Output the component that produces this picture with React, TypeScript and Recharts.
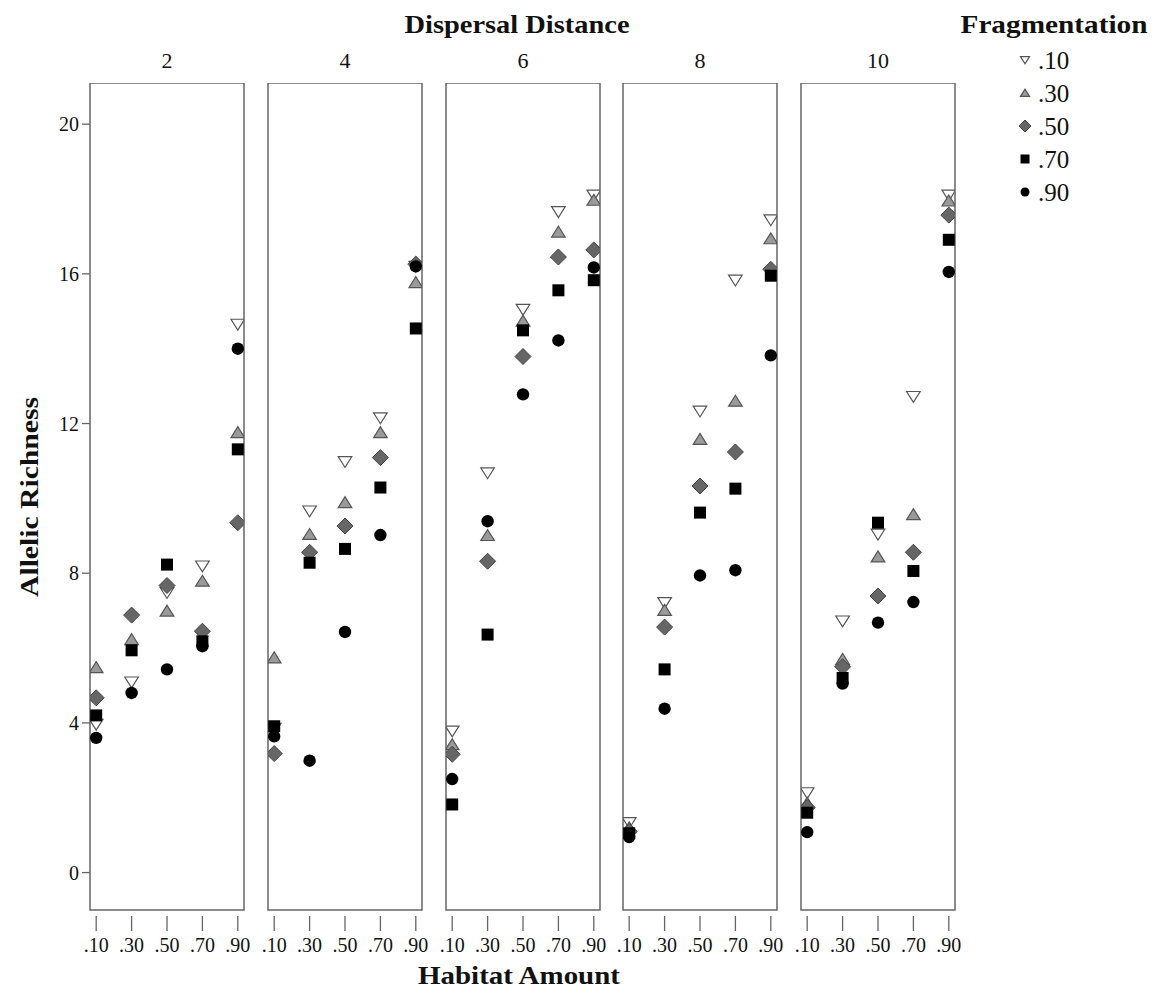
import React from 'react';
import { ScatterChart, Scatter, XAxis, YAxis, ReferenceArea } from 'recharts';

// ---------- data ----------
const habitatAmount = [0.1, 0.3, 0.5, 0.7, 0.9];
const habitatTickLabels = ['.10', '.30', '.50', '.70', '.90'];
const dispersalDistances = ['2', '4', '6', '8', '10'];
const fragmentationLabels = ['.10', '.30', '.50', '.70', '.90'];
const yTicks = [0, 4, 8, 12, 16, 20];

// rows: dispersal 2, 4, 6, 8, 10 ; columns: habitat .10 .. .90
const frag10 = [
  [3.96, 5.09, 7.48, 8.19, 14.65],
  [3.85, 9.66, 10.98, 12.15, 16.2],
  [3.78, 10.68, 15.05, 17.66, 18.1],
  [1.33, 7.21, 12.33, 15.83, 17.44],
  [2.13, 6.72, 9.04, 12.72, 18.1],
];
const frag30 = [
  [5.48, 6.23, 6.99, 7.79, 11.76],
  [5.74, 9.04, 9.89, 11.76, 15.77],
  [3.42, 9.01, 14.74, 17.12, 17.97],
  [1.2, 7.01, 11.58, 12.6, 16.94],
  [1.86, 5.7, 8.44, 9.57, 17.95],
];
const frag50 = [
  [4.67, 6.88, 7.67, 6.45, 9.35],
  [3.18, 8.56, 9.26, 11.09, 16.26],
  [3.16, 8.32, 13.79, 16.45, 16.64],
  [1.1, 6.56, 10.33, 11.24, 16.12],
  [1.74, 5.5, 7.39, 8.56, 17.57],
];
const frag70 = [
  [4.2, 5.94, 8.23, 6.18, 11.31],
  [3.91, 8.28, 8.65, 10.29, 14.54],
  [1.82, 6.36, 14.49, 15.56, 15.83],
  [1.05, 5.43, 9.62, 10.26, 15.95],
  [1.6, 5.2, 9.35, 8.06, 16.91],
];
const frag90 = [
  [3.6, 4.8, 5.43, 6.05, 14.0],
  [3.64, 2.99, 6.43, 9.02, 16.2],
  [2.5, 9.39, 12.78, 14.22, 16.17],
  [0.95, 4.38, 7.94, 8.08, 13.82],
  [1.08, 5.05, 6.68, 7.23, 16.05],
];

// ---------- layout / style ----------
const FONT = '"Liberation Serif", "Times New Roman", serif';
const PLOT_TOP = 83;
const PLOT_H = 827;
const PANEL_W = 154;
const Y_AXIS_W = 70;
const X_AXIS_H = 70;
const SIDE = 18;
const panelLefts = [90, 268, 446, 623, 801];
const X_DOMAIN: [number, number] = [0.065, 0.935];
const Y_DOMAIN: [number, number] = [-1, 21.1];
const FRAME = '#666';

type ShapeProps = { cx?: number; cy?: number };

const TriDown = (s: number) => (p: ShapeProps) => {
  const cx = p.cx ?? 0, cy = p.cy ?? 0;
  return (
    <path
      d={`M${cx - s},${cy - s * 0.75} L${cx + s},${cy - s * 0.75} L${cx},${cy + s * 0.85} Z`}
      fill="#fff" stroke="#555" strokeWidth={1.2}
    />
  );
};
const TriUp = (s: number) => (p: ShapeProps) => {
  const cx = p.cx ?? 0, cy = p.cy ?? 0;
  return (
    <path
      d={`M${cx - s},${cy + s * 0.75} L${cx + s},${cy + s * 0.75} L${cx},${cy - s * 0.85} Z`}
      fill="#9a9a9a" stroke="#555" strokeWidth={1.2}
    />
  );
};
const Diamond = (s: number) => (p: ShapeProps) => {
  const cx = p.cx ?? 0, cy = p.cy ?? 0;
  return (
    <path
      d={`M${cx},${cy - s} L${cx + s},${cy} L${cx},${cy + s} L${cx - s},${cy} Z`}
      fill="#666" stroke="#444" strokeWidth={1}
    />
  );
};
const Square = (s: number) => (p: ShapeProps) => {
  const cx = p.cx ?? 0, cy = p.cy ?? 0;
  return <rect x={cx - s} y={cy - s} width={2 * s} height={2 * s} fill="#000" />;
};
const Circle = (s: number) => (p: ShapeProps) => {
  const cx = p.cx ?? 0, cy = p.cy ?? 0;
  return <circle cx={cx} cy={cy} r={s} fill="#000" />;
};

const seriesDefs = [
  { name: fragmentationLabels[0], values: frag10, shape: TriDown(6.8), legend: TriDown(4.5) },
  { name: fragmentationLabels[1], values: frag30, shape: TriUp(6.8), legend: TriUp(4.5) },
  { name: fragmentationLabels[2], values: frag50, shape: Diamond(8), legend: Diamond(6) },
  { name: fragmentationLabels[3], values: frag70, shape: Square(6), legend: Square(4.5) },
  { name: fragmentationLabels[4], values: frag90, shape: Circle(6.2), legend: Circle(4.5) },
];

const HabitatTick = (props: any) => {
  const { x, y, payload } = props;
  const idx = habitatAmount.indexOf(payload.value);
  return (
    <g>
      <line x1={x} x2={x} y1={y + 6} y2={y + 21} stroke={FRAME} strokeWidth={1.3} />
      <text x={x} y={y + 42} textAnchor="middle" fontFamily={FONT} fontSize={20} fill="#111">
        {habitatTickLabels[idx]}
      </text>
    </g>
  );
};

const Panel = ({ index }: { index: number }) => {
  const withY = index === 0;
  const leftMargin = withY ? 0 : SIDE;
  const width = PANEL_W + (withY ? Y_AXIS_W : 0) + leftMargin + SIDE;
  const left = panelLefts[index] - (withY ? Y_AXIS_W : 0) - leftMargin;
  return (
    <div style={{ position: 'absolute', left, top: PLOT_TOP }}>
      <ScatterChart
        width={width}
        height={PLOT_H + X_AXIS_H}
        margin={{ top: 0, right: SIDE, bottom: 0, left: leftMargin }}
      >
        <XAxis
          type="number"
          dataKey="x"
          domain={X_DOMAIN}
          ticks={habitatAmount}
          interval={0}
          axisLine={false}
          tickLine={false}
          tickSize={0}
          tickMargin={0}
          height={X_AXIS_H}
          tick={<HabitatTick />}
          allowDataOverflow
        />
        <YAxis
          type="number"
          dataKey="y"
          domain={Y_DOMAIN}
          ticks={yTicks}
          interval={0}
          hide={!withY}
          width={Y_AXIS_W}
          axisLine={false}
          tickLine={{ stroke: FRAME, strokeWidth: 1.3 }}
          tickSize={8}
          tickMargin={3}
          tick={{ fontFamily: FONT, fontSize: 20, fill: '#111' }}
          allowDataOverflow
        />
        <ReferenceArea
          x1={X_DOMAIN[0]}
          x2={X_DOMAIN[1]}
          y1={Y_DOMAIN[0]}
          y2={Y_DOMAIN[1]}
          fill="#fff"
          fillOpacity={0}
          stroke={FRAME}
          strokeWidth={1.5}
          ifOverflow="visible"
        />
        {seriesDefs.map((s) => (
          <Scatter
            key={s.name}
            name={s.name}
            data={habitatAmount.map((x, j) => ({ x, y: s.values[index][j] }))}
            shape={s.shape as any}
            isAnimationActive={false}
          />
        ))}
      </ScatterChart>
    </div>
  );
};

export default function App() {
  const panelCenters = panelLefts.map((l) => l + PANEL_W / 2);
  return (
    <div style={{ position: 'absolute', left: 0, top: 0, width: 1160, height: 991, background: '#fff' }}>
      <svg width={1160} height={991} style={{ position: 'absolute', left: 0, top: 0 }}>
        <text x={517} y={33} textAnchor="middle" fontFamily={FONT} fontWeight="bold" fontSize={25}
          textLength={225} lengthAdjust="spacingAndGlyphs" fill="#111">Dispersal Distance</text>
        <text x={1054} y={33} textAnchor="middle" fontFamily={FONT} fontWeight="bold" fontSize={25}
          textLength={187} lengthAdjust="spacingAndGlyphs" fill="#111">Fragmentation</text>
        {dispersalDistances.map((d, i) => (
          <text key={d} x={panelCenters[i]} y={68} textAnchor="middle" fontFamily={FONT} fontSize={22} fill="#111">{d}</text>
        ))}
        <text x={519} y={984} textAnchor="middle" fontFamily={FONT} fontWeight="bold" fontSize={25}
          textLength={202} lengthAdjust="spacingAndGlyphs" fill="#111">Habitat Amount</text>
        <text x={0} y={0} transform={`translate(38, 497) rotate(-90)`} textAnchor="middle" fontFamily={FONT}
          fontWeight="bold" fontSize={25} textLength={200} lengthAdjust="spacingAndGlyphs" fill="#111">Allelic Richness</text>
        {seriesDefs.map((s, i) => {
          const cy = 60 + i * 33;
          const Sym = s.legend;
          return (
            <g key={s.name}>
              <Sym cx={1025} cy={cy} />
              <text x={1038} y={cy + 9} fontFamily={FONT} fontSize={25} fill="#111">{s.name}</text>
            </g>
          );
        })}
      </svg>
      {dispersalDistances.map((d, i) => (
        <Panel key={d} index={i} />
      ))}
    </div>
  );
}
